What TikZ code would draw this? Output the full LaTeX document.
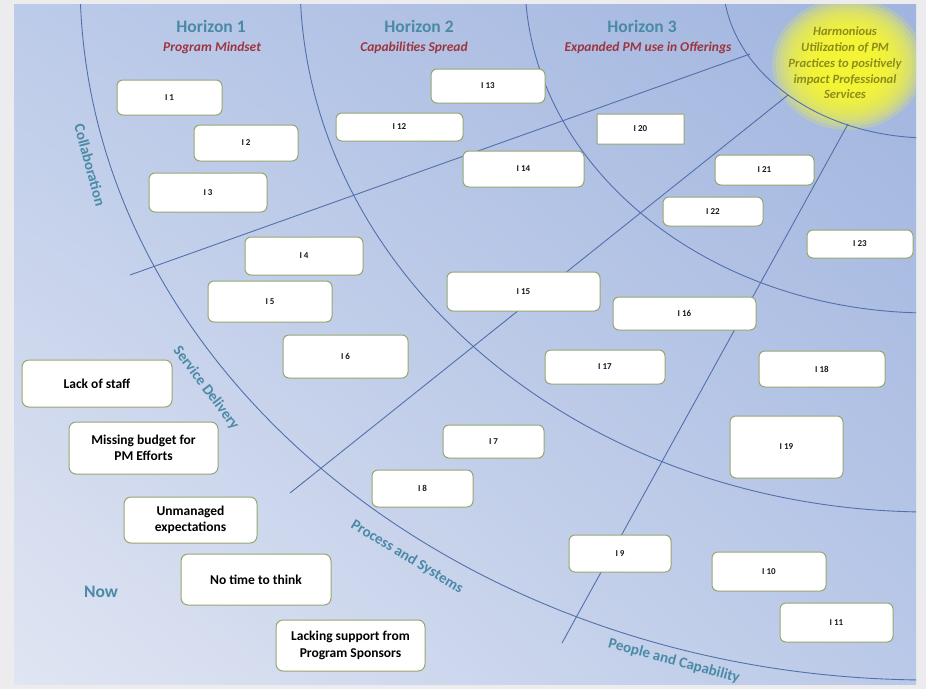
\documentclass[tikz,border=0pt]{standalone}
\usepackage{fontspec}
\setmainfont{Carlito}
\usetikzlibrary{shadings}
\definecolor{framegrey}{RGB}{236,236,238}
\definecolor{bgUL}{RGB}{188,203,233}
\definecolor{bgUR}{RGB}{160,180,222}
\definecolor{bgLL}{RGB}{224,229,242}
\definecolor{bgLR}{RGB}{186,201,232}
\definecolor{arcblue}{RGB}{82,112,172}
\definecolor{boxedge}{RGB}{150,166,112}
\definecolor{hteal}{RGB}{74,138,166}
\definecolor{hred}{RGB}{160,52,62}
\definecolor{glowyellow}{RGB}{250,250,45}
\definecolor{glowtext}{RGB}{140,140,30}
\begin{document}
\begin{tikzpicture}[x=1pt,y=-1pt,
  arcline/.style={draw=arcblue, line width=0.9pt},
  bsz/.style 2 args={minimum width=#1pt, minimum height=#2pt},
  ibox/.style={draw=boxedge, line width=1pt, fill=white, rounded corners=6pt, inner sep=0pt,
     font=\fontsize{9}{10}\selectfont\bfseries, text=black!90},
  sqbox/.style={ibox, rounded corners=0.5pt},
  bigbox/.style={draw=boxedge, line width=1pt, fill=white, rounded corners=7pt, inner sep=0pt,
     align=center, font=\fontsize{13.5}{16.5}\selectfont\bfseries, text=black},
  hdr/.style={anchor=base, text=hteal, font=\fontsize{17.5}{20}\selectfont\bfseries},
  subhdr/.style={anchor=base, text=hred, font=\fontsize{13.5}{16}\selectfont\bfseries\itshape},
  side/.style={text=hteal, font=\fontsize{15}{17}\selectfont\bfseries},
  goal/.style={align=center, text=glowtext, font=\fontsize{12.6}{15.8}\selectfont\bfseries\itshape}
]
\useasboundingbox (0,0) rectangle (926,689);
\fill[framegrey] (0,0) rectangle (926,689);
\shade[upper left=bgUL, upper right=bgUR, lower left=bgLL, lower right=bgLR] (14,4) rectangle (916,684);

\coordinate (hub) at (930,-20);
\begin{scope}
\clip (14,4) rectangle (916,684);
% glow
\foreach \s in {1.0,0.95,0.9,0.85,0.8,0.75,0.7,0.65,0.6,0.55,0.5,0.45,0.4}
  \fill[glowyellow, fill opacity=0.2] (848,64) ellipse [x radius={76pt*\s}, y radius={66pt*\s}];
% horizon arcs
\draw[arcline] (hub) ellipse [x radius=850pt, y radius=700pt];
\draw[arcline] (hub) ellipse [x radius=630pt, y radius=532pt];
\draw[arcline] (hub) ellipse [x radius=405pt, y radius=333pt];
\draw[arcline] (hub) ellipse [x radius=207pt, y radius=158pt];
\end{scope}

% radial lines
\coordinate (a0) at (130,275); \coordinate (a1) at (750,54);
\coordinate (b0) at (290,493); \coordinate (b1) at (788,95);
\coordinate (c0) at (562,643); \coordinate (c1) at (848,124);
\draw[arcline] (a0) -- (a1);
\draw[arcline] (b0) -- (b1);
\draw[arcline] (c0) -- (c1);

% goal text
\node[goal] (goal) at (845,63) {Harmonious\\Utilization of PM\\Practices to positively\\impact Professional\\Services};

% headers
\node[hdr] (h1) at (211,32) {Horizon 1};
\node[subhdr] (s1) at (212,51) {Program Mindset};
\node[hdr] (h2) at (419,32) {Horizon 2};
\node[subhdr] (s2) at (414,51) {Capabilities Spread};
\node[hdr] (h3) at (642,32) {Horizon 3};
\node[subhdr] (s3) at (648,51) {Expanded PM use in Offerings};

% side labels
\node[side, rotate=-75] (collab) at (90,165) {Collaboration};
\node[side, rotate=-53] (service) at (206,388) {Service Delivery};
\node[side, rotate=-31] (process) at (407,557) {Process and Systems};
\node[side, rotate=-15] (people) at (674,661) {People and Capability};
\node[hdr] (now) at (101,597) {Now};

% initiative boxes
\node[ibox, bsz={105}{35}] (i1) at (169.5,97.5) {I 1};
\node[ibox, bsz={104}{36}] (i2) at (246,143) {I 2};
\node[ibox, bsz={118}{39}] (i3) at (208,192.5) {I 3};
\node[ibox, bsz={118}{38}] (i4) at (304,256) {I 4};
\node[ibox, bsz={124}{41}] (i5) at (270,301.5) {I 5};
\node[ibox, bsz={125}{43}] (i6) at (345.5,356.5) {I 6};
\node[ibox, bsz={101}{33}] (i7) at (493.5,441.5) {I 7};
\node[ibox, bsz={101}{37}] (i8) at (422.5,488.5) {I 8};
\node[ibox, bsz={102}{37}] (i9) at (620,553.5) {I 9};
\node[ibox, bsz={114}{39}] (i10) at (769,571.5) {I 10};
\node[ibox, bsz={113}{39}] (i11) at (836.5,622.5) {I 11};
\node[ibox, bsz={127}{28}] (i12) at (399.5,127) {I 12};
\node[ibox, bsz={114}{34}] (i13) at (488,86) {I 13};
\node[ibox, bsz={121}{36}] (i14) at (523.5,169) {I 14};
\node[ibox, bsz={153}{39}] (i15) at (523.5,291.5) {I 15};
\node[ibox, bsz={143}{33}] (i16) at (684.5,313.5) {I 16};
\node[ibox, bsz={120}{34}] (i17) at (605,367) {I 17};
\node[ibox, bsz={126}{36}] (i18) at (822,369) {I 18};
\node[ibox, bsz={113}{62}] (i19) at (786.5,447) {I 19};
\node[sqbox, bsz={87}{30}] (i20) at (640.5,129) {I 20};
\node[ibox, bsz={99}{30}] (i21) at (764.5,170) {I 21};
\node[ibox, bsz={100}{29}] (i22) at (713,211.5) {I 22};
\node[ibox, bsz={106}{28}] (i23) at (860,244) {I 23};

% obstacle boxes
\node[bigbox, bsz={150}{47}] (staff) at (97,383.5) {Lack of staff};
\node[bigbox, bsz={149}{52}] (budget) at (143.5,448) {Missing budget for\\PM Efforts};
\node[bigbox, bsz={133}{46}] (expect) at (190.5,520) {Unmanaged\\expectations};
\node[bigbox, bsz={150}{51}] (think) at (256,579.5) {No time to think};
\node[bigbox, bsz={149}{51}] (sponsor) at (350.5,645.5) {Lacking support from\\Program Sponsors};
\end{tikzpicture}
\end{document}
